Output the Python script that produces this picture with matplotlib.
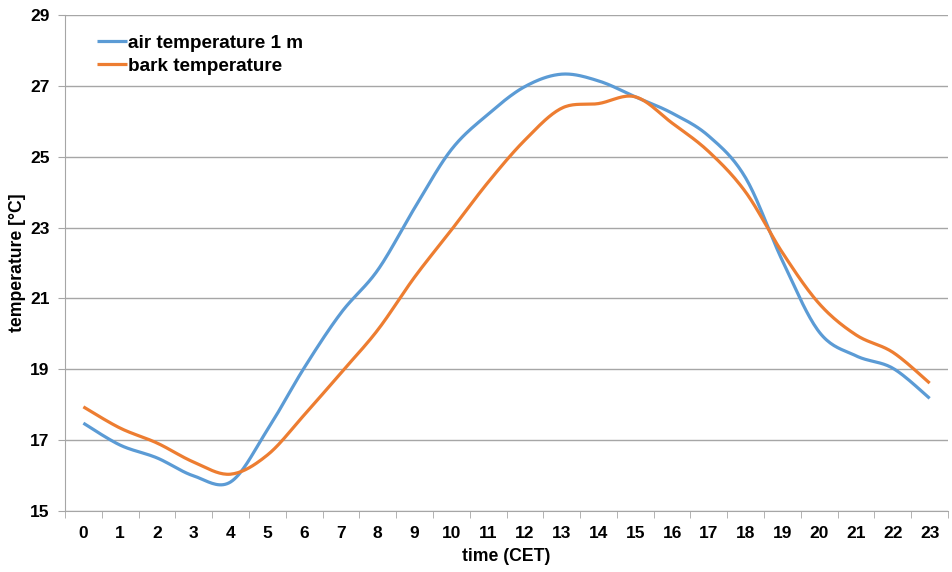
import numpy as np
import matplotlib.pyplot as plt

hours = list(range(24))
air_temp = [17.48, 16.86, 16.50, 15.99, 15.82, 17.29, 19.04, 20.59, 21.80, 23.55,
            25.20, 26.20, 26.98, 27.33, 27.14, 26.69, 26.23, 25.58, 24.40, 22.06,
            20.05, 19.38, 19.03, 18.18]
bark_temp = [17.94, 17.34, 16.92, 16.38, 16.04, 16.58, 17.71, 18.90, 20.11, 21.60,
             22.93, 24.28, 25.47, 26.37, 26.50, 26.69, 25.95, 25.14, 24.00, 22.29,
             20.85, 19.97, 19.48, 18.61]
labels = ["air temperature 1 m", "bark temperature"]
colors = ["#5B9BD5", "#ED7D31"]


def smooth(x, y, n=20):
    # Excel-style smoothed line (Catmull-Rom between the data points)
    x = np.asarray(x, float)
    y = np.asarray(y, float)
    px = np.concatenate([[x[0]], x, [x[-1]]])
    py = np.concatenate([[y[0]], y, [y[-1]]])
    xs, ys = [], []
    t = np.linspace(0, 1, n, endpoint=False)
    for i in range(1, len(px) - 2):
        for p, out in ((px, xs), (py, ys)):
            p0, p1, p2, p3 = p[i - 1], p[i], p[i + 1], p[i + 2]
            c1 = p1 + (p2 - p0) / 6
            c2 = p2 - (p3 - p1) / 6
            out.extend((1 - t) ** 3 * p1 + 3 * (1 - t) ** 2 * t * c1
                       + 3 * (1 - t) * t ** 2 * c2 + t ** 3 * p2)
    xs.append(x[-1])
    ys.append(y[-1])
    return xs, ys


plt.rcParams['font.family'] = ['Liberation Sans', 'DejaVu Sans']

fig = plt.figure(figsize=(9.53, 5.72), dpi=100)
ax = fig.add_axes([0.0682, 0.1066, 0.9266, 0.8672])

for series, label, color in zip([air_temp, bark_temp], labels, colors):
    sx, sy = smooth(hours, series)
    ax.plot(sx, sy, color=color, lw=2.3, label=label, solid_capstyle='butt')

ax.set_xlim(-0.5, 23.5)
ax.set_ylim(15, 29)
ax.set_yticks(range(15, 30, 2))
ax.set_xticks(hours)
ax.set_xticks(np.arange(-0.5, 24, 1), minor=True)
ax.tick_params(axis='x', which='major', length=0, pad=11)
ax.tick_params(axis='x', which='minor', length=5, color='#A6A6A6')
ax.tick_params(axis='y', length=5, color='#A6A6A6', pad=6)
for lab in ax.get_xticklabels() + ax.get_yticklabels():
    lab.set_fontsize(12.5)
    lab.set_fontweight('bold')

ax.grid(axis='y', color='#A6A6A6', lw=1)
ax.set_axisbelow(True)
for side in ['top', 'right']:
    ax.spines[side].set_visible(False)
for side in ['left', 'bottom']:
    ax.spines[side].set_color('#A6A6A6')

ax.set_xlabel('time (CET)', fontsize=12.7, fontweight='bold', labelpad=5)
ax.set_ylabel('temperature [°C]', fontsize=12.7, fontweight='bold', labelpad=3)

leg = ax.legend(loc='upper left', bbox_to_anchor=(0.017, 0.995), frameon=False,
                prop={'size': 13.6, 'weight': 'bold'}, handlelength=1.6,
                handletextpad=0.05, labelspacing=0.3)

fig.savefig('out.png', dpi=100)
